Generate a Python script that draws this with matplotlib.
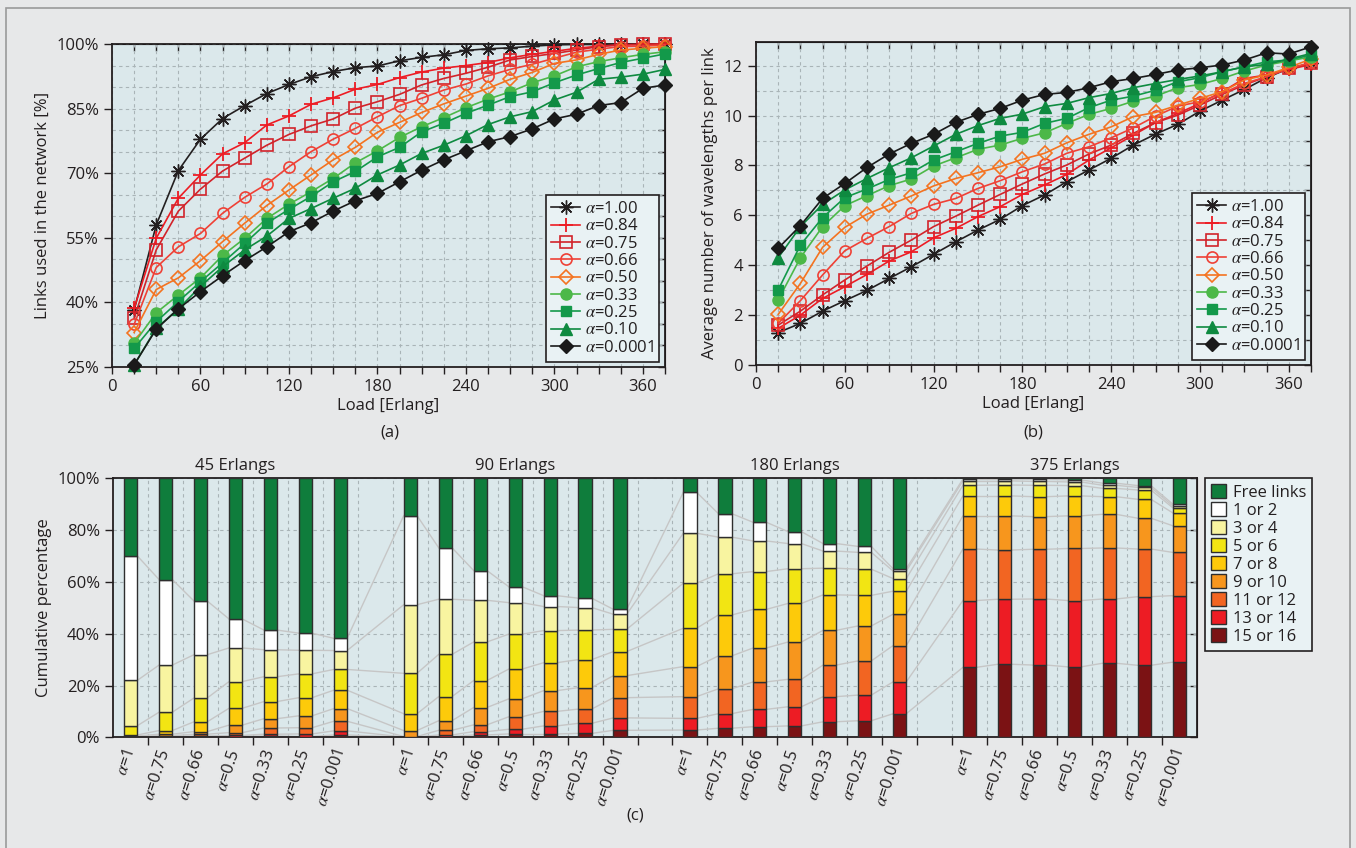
#!/usr/bin/env python3
"""Load vs link usage / wavelengths, plus cumulative wavelength occupancy bars."""

import matplotlib
matplotlib.use("Agg")
import matplotlib.pyplot as plt
from matplotlib.patches import Rectangle, Patch
from matplotlib.ticker import MultipleLocator, FuncFormatter

plt.rcParams.update({
    "font.family": ["Open Sans", "DejaVu Sans"], "font.size": 12,
    "mathtext.fontset": "stix", "text.color": "#231f20",
    "axes.labelcolor": "#231f20", "xtick.color": "#231f20", "ytick.color": "#231f20",
})

# ---------------- data ----------------
loads = [15, 30, 45, 60, 75, 90, 105, 120, 135, 150, 165, 180, 195,
         210, 225, 240, 255, 270, 285, 300, 315, 330, 345, 360, 375]
alpha_lines = ["1.00", "0.84", "0.75", "0.66", "0.50", "0.33", "0.25", "0.10", "0.0001"]

# (a) links used in the network [%]
links_a100 = [38.2, 58.0, 70.6, 77.9, 82.7, 85.7, 88.5, 90.6, 92.4, 93.6, 94.5, 94.9, 96.1,
              96.9, 97.5, 98.5, 98.9, 99.1, 99.5, 99.8, 99.9, 99.9, 100, 100, 100]
links_a084 = [38.6, 54.9, 64.2, 69.6, 74.5, 77.1, 81.2, 83.3, 86.0, 87.5, 89.5, 90.6, 92.2,
              93.5, 94.4, 95.0, 95.7, 96.8, 97.6, 98.3, 99.0, 99.5, 99.8, 99.9, 100]
links_a075 = [36.3, 52.2, 61.2, 66.3, 70.5, 73.5, 76.5, 79.0, 81.0, 82.6, 85.1, 86.6, 88.3,
              90.5, 92.0, 93.2, 94.6, 96.3, 97.1, 97.8, 98.6, 99.4, 99.8, 99.9, 100]
links_a066 = [34.9, 48.1, 52.9, 56.0, 60.7, 64.4, 67.5, 71.5, 75.0, 77.9, 80.4, 83.1, 85.7,
              87.4, 89.3, 90.7, 92.6, 94.1, 95.3, 96.7, 98.1, 98.8, 99.4, 99.5, 99.8]
links_a050 = [33.0, 43.0, 45.7, 49.7, 54.1, 58.4, 62.5, 66.1, 69.6, 73.1, 76.0, 79.5, 81.8,
              84.1, 86.1, 87.9, 89.7, 91.8, 93.4, 95.5, 96.3, 97.6, 98.6, 99.0, 99.4]
links_a033 = [30.5, 37.6, 41.7, 45.7, 50.9, 54.9, 59.5, 62.8, 65.7, 68.8, 72.4, 75.2, 78.3,
              80.8, 82.9, 85.2, 87.2, 88.9, 91.0, 92.6, 94.7, 95.9, 96.8, 97.6, 98.2]
links_a025 = [29.3, 35.5, 40.2, 44.8, 49.2, 53.7, 58.4, 61.6, 64.6, 68.0, 70.4, 73.8, 76.0,
              79.6, 81.6, 83.9, 85.8, 87.8, 88.9, 91.0, 92.8, 94.3, 95.7, 96.7, 97.7]
links_a010 = [25.5, 34.0, 38.5, 43.7, 48.3, 52.2, 55.4, 59.5, 61.8, 64.2, 66.5, 69.6, 71.9,
              74.6, 76.5, 78.7, 81.3, 83.1, 84.3, 87.0, 88.8, 91.8, 92.3, 93.0, 94.1]
links_a0001 = [25.5, 33.8, 38.5, 42.5, 46.2, 49.7, 52.9, 56.4, 58.5, 61.2, 63.6, 65.3, 68.0,
               70.7, 73.1, 75.2, 77.3, 78.5, 80.3, 82.6, 83.7, 85.7, 86.4, 89.7, 90.5]
links_ticks = [25, 40, 55, 70, 85, 100]

# (b) average number of wavelengths per link
wl_a100 = [1.30, 1.67, 2.16, 2.58, 2.99, 3.47, 3.94, 4.44, 4.94, 5.41, 5.84, 6.39, 6.82,
           7.35, 7.82, 8.29, 8.82, 9.26, 9.65, 10.18, 10.62, 11.05, 11.52, 11.89, 12.09]
wl_a084 = [1.47, 2.00, 2.67, 3.14, 3.63, 4.17, 4.54, 5.10, 5.48, 5.95, 6.35, 6.84, 7.22,
           7.64, 8.22, 8.71, 9.22, 9.72, 10.09, 10.49, 10.96, 11.49, 11.63, 11.85, 12.05]
wl_a075 = [1.60, 2.16, 2.81, 3.41, 3.97, 4.52, 5.01, 5.55, 5.97, 6.41, 6.84, 7.26, 7.66,
           8.02, 8.46, 8.82, 9.29, 9.72, 10.02, 10.42, 10.85, 11.23, 11.56, 11.89, 12.09]
wl_a066 = [1.67, 2.58, 3.61, 4.58, 5.08, 5.55, 6.08, 6.44, 6.68, 7.08, 7.39, 7.75, 8.06,
           8.49, 8.75, 9.11, 9.51, 9.98, 10.38, 10.56, 10.89, 11.29, 11.56, 11.89, 12.13]
wl_a050 = [2.03, 3.27, 4.72, 5.52, 6.05, 6.41, 6.78, 7.18, 7.48, 7.71, 7.95, 8.25, 8.49,
           8.91, 9.25, 9.55, 9.96, 10.13, 10.42, 10.69, 10.96, 11.43, 11.63, 11.93, 12.27]
wl_a033 = [2.61, 4.30, 5.55, 6.39, 6.79, 7.19, 7.46, 7.98, 8.31, 8.65, 8.82, 9.09, 9.31,
           9.69, 10.05, 10.29, 10.58, 10.78, 11.12, 11.25, 11.49, 11.79, 12.03, 12.19, 12.36]
wl_a025 = [3.01, 4.81, 5.91, 6.71, 7.06, 7.44, 7.71, 8.22, 8.55, 8.89, 9.18, 9.33, 9.69,
           9.89, 10.32, 10.62, 10.78, 11.02, 11.36, 11.52, 11.76, 11.96, 12.16, 12.23, 12.43]
wl_a010 = [4.30, 5.55, 6.44, 7.02, 7.48, 7.91, 8.31, 8.78, 9.25, 9.60, 9.89, 10.06, 10.36,
           10.49, 10.72, 10.89, 11.12, 11.29, 11.45, 11.59, 11.76, 11.96, 12.05, 12.27, 12.49]
wl_a0001 = [4.68, 5.59, 6.68, 7.28, 7.92, 8.46, 8.89, 9.25, 9.73, 10.05, 10.29, 10.62, 10.85,
            10.93, 11.12, 11.36, 11.49, 11.65, 11.83, 11.92, 12.03, 12.23, 12.52, 12.47, 12.76]
wl_ticks = [0, 2, 4, 6, 8, 10, 12]

links_series = [links_a100, links_a084, links_a075, links_a066, links_a050,
                links_a033, links_a025, links_a010, links_a0001]
wl_series = [wl_a100, wl_a084, wl_a075, wl_a066, wl_a050,
             wl_a033, wl_a025, wl_a010, wl_a0001]

# (c) cumulative percentage, top of each class from the bottom:
# [15/16, 13/14, 11/12, 9/10, 7/8, 5/6, 3/4, 1/2]; free links fill up to 100
group_titles = ["45 Erlangs", "90 Erlangs", "180 Erlangs", "375 Erlangs"]
alpha_bars = ["1", "0.75", "0.66", "0.5", "0.33", "0.25", "0.001"]
classes = ["15 or 16", "13 or 14", "11 or 12", "9 or 10", "7 or 8",
           "5 or 6", "3 or 4", "1 or 2", "Free links"]
cum_45 = [
    [0.1, 0.15, 0.25, 0.5, 0.9, 4.5, 22.0, 70.0],
    [0.2, 0.3, 0.6, 1.2, 2.6, 9.7, 27.9, 60.9],
    [0.2, 0.5, 1.2, 2.2, 6.0, 15.2, 31.9, 52.6],
    [0.3, 0.7, 1.8, 4.7, 11.2, 21.5, 34.5, 45.7],
    [0.5, 1.2, 3.6, 7.2, 13.8, 23.4, 33.8, 41.4],
    [0.3, 1.3, 3.7, 8.3, 15.3, 24.5, 33.6, 40.2],
    [0.9, 2.5, 6.2, 11.1, 18.2, 26.2, 33.5, 38.2],
]
cum_90 = [
    [0.05, 0.1, 0.3, 2.6, 9.1, 24.7, 51.2, 85.6],
    [0.3, 0.9, 2.7, 6.4, 15.7, 32.0, 53.3, 73.2],
    [0.9, 2.2, 4.8, 11.5, 21.9, 36.8, 52.9, 64.4],
    [1.3, 3.1, 7.9, 14.8, 26.3, 39.8, 52.0, 58.2],
    [1.3, 4.4, 10.0, 18.0, 28.8, 41.2, 50.5, 54.7],
    [1.5, 5.4, 10.9, 19.2, 30.0, 41.4, 50.1, 53.7],
    [2.7, 7.5, 15.3, 23.8, 33.1, 41.7, 47.5, 49.4],
]
cum_180 = [
    [2.8, 7.3, 15.7, 27.3, 42.1, 59.5, 78.8, 94.6],
    [3.5, 9.1, 18.7, 31.4, 47.2, 63.1, 77.3, 86.4],
    [4.1, 10.8, 21.4, 34.5, 49.4, 64.0, 75.8, 83.0],
    [4.4, 11.8, 22.4, 36.8, 51.7, 65.1, 74.8, 79.4],
    [6.0, 15.7, 27.9, 41.3, 55.0, 65.3, 71.9, 74.8],
    [6.4, 16.3, 29.5, 43.0, 54.8, 64.9, 71.4, 73.7],
    [9.1, 21.4, 35.4, 47.5, 56.4, 61.3, 64.2, 65.1],
]
cum_375 = [
    [27.0, 52.8, 72.7, 85.5, 93.2, 97.3, 99.0, 99.7],
    [28.2, 53.3, 72.3, 85.5, 93.2, 97.4, 99.0, 99.7],
    [27.9, 53.4, 72.6, 85.2, 92.9, 97.3, 98.8, 99.6],
    [27.2, 52.8, 72.9, 85.5, 93.2, 97.2, 98.6, 99.4],
    [28.6, 53.4, 73.1, 86.1, 92.9, 96.1, 97.3, 98.1],
    [27.8, 54.3, 72.7, 84.6, 91.9, 95.5, 96.5, 97.2],
    [29.0, 54.7, 71.4, 81.7, 86.7, 88.7, 89.4, 90.1],
]
groups = [cum_45, cum_90, cum_180, cum_375]

# ---------------- styles ----------------
BG = "#e7e8e9"
FACE = "#dbe8eb"
LEG_FACE = "#e9f2f4"
GRID = "#a9b4b7"
DARK = "#231f20"

line_styles = [
    dict(marker=(8, 2, 0), color="#231f20", ms=10, mew=1.0),
    dict(marker="+", color="#ed1c24", ms=10, mew=1.3),
    dict(marker="s", color="#d2232a", mfc="none", ms=8, mew=1.2),
    dict(marker="o", color="#ef4136", mfc="none", ms=8, mew=1.2),
    dict(marker="D", color="#f47320", mfc="none", ms=7, mew=1.2),
    dict(marker="o", color="#4cb848", ms=8),
    dict(marker="s", color="#13994a", ms=7.5),
    dict(marker="^", color="#0e8a40", ms=8.5),
    dict(marker="D", color="#1a1a1a", ms=7),
]
class_colors = ["#7b1214", "#ed1c24", "#f26522", "#f7961d", "#fdca0a",
                "#f2e513", "#f8f4a0", "#ffffff", "#0f7d3c"]

W, H = 1356, 848
fig = plt.figure(figsize=(W / 100, H / 100), dpi=100, facecolor=BG)
fig.patches.append(Rectangle((6 / W, -0.01), (W - 12) / W, 1 - 8 / H + 0.01,
                             transform=fig.transFigure, fill=False,
                             ec="#9a9a9a", lw=1.2))


def px_axes(l, t, r, b):
    return fig.add_axes([l / W, 1 - b / H, (r - l) / W, (b - t) / H])


def frame(ax, xinner, yinner):
    ax.set_facecolor(FACE)
    for s in ax.spines.values():
        s.set_color(DARK)
        s.set_linewidth(1.3)
    if xinner is not None:
        sx = ax.secondary_xaxis("top")
        sx.set_xticks(xinner)
        sx.tick_params(direction="in", length=5, labeltop=False, width=1)
    sy = ax.secondary_yaxis("right")
    sy.set_yticks(yinner)
    sy.tick_params(direction="in", length=5, labelright=False, width=1)


def line_panel(ax, series, ylim, yticks, ystep, ylabel, fmt):
    for vals, lab, st in zip(series, alpha_lines, line_styles):
        ax.plot(loads, vals, lw=1.2, label=r"$\alpha$=" + lab, clip_on=False, zorder=3, **st)
    ax.set_xlim(0, 375)
    ax.set_ylim(*ylim)
    ax.xaxis.set_major_locator(MultipleLocator(60))
    ax.xaxis.set_minor_locator(MultipleLocator(15))
    ax.set_yticks(yticks)
    ax.yaxis.set_minor_locator(MultipleLocator(ystep))
    ax.yaxis.set_major_formatter(FuncFormatter(fmt))
    ax.tick_params(axis="x", which="both", direction="out", length=5, width=1)
    ax.tick_params(axis="y", which="major", direction="out", length=6, width=1)
    ax.tick_params(axis="y", which="minor", length=0)
    ax.grid(which="both", color=GRID, ls=(0, (3, 3)), lw=0.8)
    ax.set_axisbelow(True)
    ax.set_xlabel("Load [Erlang]", labelpad=2)
    ax.set_ylabel(ylabel)
    n = int(round((ylim[1] - ylim[0]) / ystep))
    frame(ax, loads, [ylim[0] + i * ystep for i in range(n + 1)])
    leg = ax.legend(loc="lower right", bbox_to_anchor=(0.99, 0.017), borderaxespad=0,
                    fancybox=False, framealpha=1, facecolor=LEG_FACE, edgecolor=DARK,
                    handlelength=1.7, labelspacing=0.08, handletextpad=0.3,
                    borderpad=0.35, fontsize=12)
    leg.get_frame().set_linewidth(1.2)


ax_a = px_axes(112, 44, 665, 367)
line_panel(ax_a, links_series, (25, 100), links_ticks, 5,
           "Links used in the network [%]", lambda v, p: f"{v:.0f}%")
ax_b = px_axes(756, 42.3, 1311, 365)
line_panel(ax_b, wl_series, (0, 12.94), wl_ticks, 1,
           "Average number of wavelengths per link", lambda v, p: f"{v:.0f}")

fig.text(390 / W, 1 - 433 / H, "(a)", ha="center", va="center", fontsize=12)
fig.text(1033 / W, 1 - 433 / H, "(b)", ha="center", va="center", fontsize=12)

# ---------------- (c) stacked bars ----------------
ax_c = px_axes(113.3, 478.3, 1196.7, 737.3)
bar_w = 0.38
xs, bars = [], []
for g, grp in enumerate(groups):
    for j, cum in enumerate(grp):
        xs.append(g * 8 + j + 1)
        bars.append(cum)

# light connectors between the class boundaries of neighbouring bars
for i in range(len(bars) - 1):
    for k in range(8):
        ax_c.plot([xs[i] + bar_w / 2, xs[i + 1] - bar_w / 2],
                  [bars[i][k], bars[i + 1][k]], color="#c6c6c6", lw=1, zorder=2)

for k, (name, col) in enumerate(zip(classes, class_colors)):
    tops = [(b[k] if k < 8 else 100) for b in bars]
    bots = [(b[k - 1] if k > 0 else 0) for b in bars]
    ax_c.bar(xs, [t - b for t, b in zip(tops, bots)], bottom=bots, width=bar_w,
             color=col, edgecolor="#2e2e2e", lw=1, zorder=3, label=name)

ax_c.set_xlim(0.5, 31.5)
ax_c.set_ylim(0, 100)
ax_c.set_xticks(xs, [r"$\alpha$=" + a for a in alpha_bars] * 4, rotation=72,
                ha="right", va="center", rotation_mode="anchor", fontsize=12)
ax_c.set_xticks([k + 0.5 for k in range(1, 31)], minor=True)
ax_c.tick_params(axis="x", which="major", length=0, pad=9)
ax_c.tick_params(axis="x", which="minor", direction="out", length=6, width=1)
ax_c.yaxis.set_major_locator(MultipleLocator(20))
ax_c.yaxis.set_major_formatter(FuncFormatter(lambda v, p: f"{v:.0f}%"))
ax_c.tick_params(axis="y", direction="out", length=6, width=1)
ax_c.grid(which="minor", axis="x", color=GRID, ls=(0, (3, 3)), lw=0.8)
ax_c.grid(which="major", axis="y", color=GRID, ls=(0, (3, 3)), lw=0.8)
ax_c.set_axisbelow(True)
frame(ax_c, None, [0, 20, 40, 60, 80, 100])
ax_c.set_ylabel("Cumulative percentage")

for g, title in enumerate(group_titles):
    ax_c.text(g * 8 + 4, 101.5, title, ha="center", va="bottom", fontsize=12)

handles = [Patch(fc=c, ec="#2e2e2e", lw=1) for c in class_colors][::-1]
leg = ax_c.legend(handles, classes[::-1], loc="upper left", bbox_to_anchor=(1.008, 1.0),
                  borderaxespad=0, fancybox=False, framealpha=1, facecolor=LEG_FACE,
                  edgecolor=DARK, handlelength=0.9, handleheight=0.9,
                  labelspacing=0.08, handletextpad=0.4, borderpad=0.35, fontsize=12)
leg.get_frame().set_linewidth(1.2)

fig.text(635 / W, 1 - 815 / H, "(c)", ha="center", va="center", fontsize=12)

fig.savefig("out.png", dpi=100, facecolor=BG)
